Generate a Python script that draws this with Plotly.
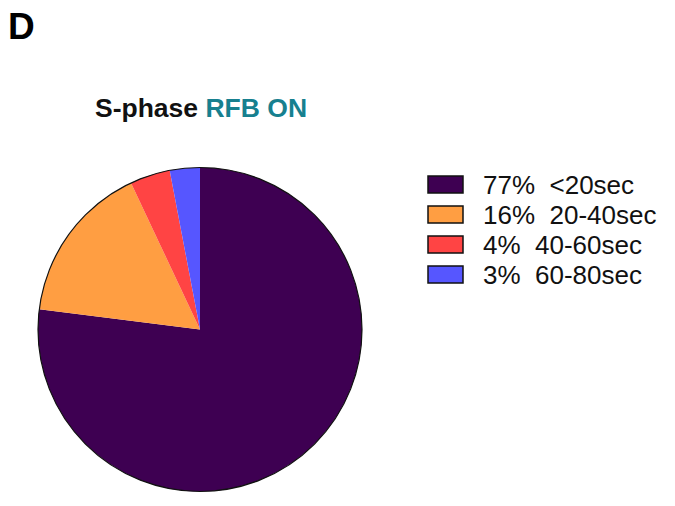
import plotly.graph_objects as go

# Duration classes of S-phase events with the RFB switched on
categories = ["<20sec", "20-40sec", "40-60sec", "60-80sec"]
percentages = [77, 16, 4, 3]
colors = ["#3e0052", "#ff9e42", "#ff4444", "#5656ff"]

W, H = 675, 506


def px(x):
    return x / W


def py(y):
    return 1 - y / H


pie_domain = dict(x=[px(38), px(362)], y=[py(492), py(167)])

fig = go.Figure()

fig.add_trace(go.Pie(
    labels=categories,
    values=percentages,
    marker=dict(colors=colors, line=dict(width=0)),
    sort=False,
    direction="clockwise",
    rotation=0,
    textinfo="none",
    hoverinfo="label+percent",
    showlegend=False,
    domain=pie_domain,
))

# thin dark rim around the whole pie
fig.add_trace(go.Pie(
    labels=["all"],
    values=[sum(percentages)],
    marker=dict(colors=["rgba(0,0,0,0)"], line=dict(color="#111111", width=1.2)),
    textinfo="none",
    hoverinfo="skip",
    showlegend=False,
    domain=pie_domain,
))

shapes = []
annotations = []

# legend: coloured boxes with percentage and class labels
row0, step = 184.5, 30
for i, (cat, pct, col) in enumerate(zip(categories, percentages, colors)):
    yc = row0 + i * step
    shapes.append(dict(
        type="rect", xref="paper", yref="paper",
        x0=px(428), x1=px(463), y0=py(yc + 8.5), y1=py(yc - 8.5),
        fillcolor=col, line=dict(color="#111111", width=1.5),
    ))
    annotations.append(dict(
        text=f"{pct}%\u00a0\u00a0{cat}", xref="paper", yref="paper",
        x=px(481), y=py(yc), xanchor="left", yanchor="middle",
        showarrow=False,
        font=dict(family="Liberation Sans, Arial, sans-serif", size=26, color="#111111"),
    ))

annotations.append(dict(
    text="<b>S-phase <span style='color:#17808f'>RFB ON</span></b>",
    xref="paper", yref="paper", x=px(201), y=py(107.5),
    xanchor="center", yanchor="middle", showarrow=False,
    font=dict(family="Liberation Sans, Arial, sans-serif", size=26.5, color="#111111"),
))

annotations.append(dict(
    text="<b>D</b>", xref="paper", yref="paper", x=px(6), y=py(26.5),
    xanchor="left", yanchor="middle", showarrow=False,
    font=dict(family="Liberation Sans, Arial, sans-serif", size=37, color="#000000"),
))

fig.update_layout(
    width=W, height=H,
    margin=dict(l=0, r=0, t=0, b=0),
    paper_bgcolor="white", plot_bgcolor="white",
    shapes=shapes, annotations=annotations,
    showlegend=False,
)

fig.write_html("out.html")
